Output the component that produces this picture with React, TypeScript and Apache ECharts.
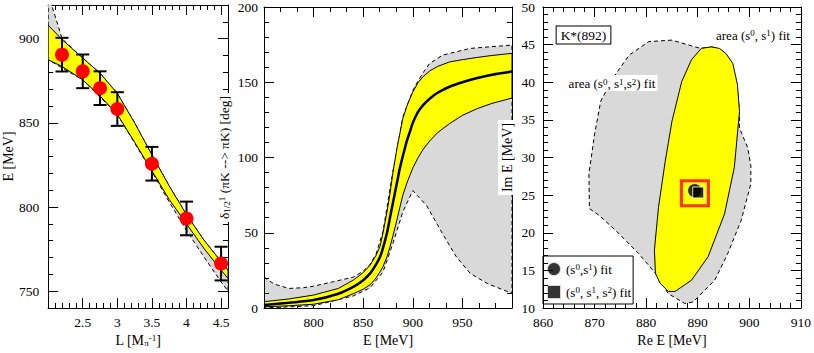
import { useEffect, useRef } from 'react';
import * as echarts from 'echarts';

const SERIF = 'Liberation Serif';

// ---------------- Panel 1: E vs L ----------------
const L_VALUES = [2.2, 2.5, 2.75, 3.0, 3.5, 4.0, 4.5];
const E_VALUES = [890.5, 880.6, 870.6, 858.2, 825.7, 793.2, 766.4];
const E_ERRORS = [10, 10, 10, 10, 10, 10, 10];

const L_BAND = [2.0, 2.2, 2.5, 2.75, 3.0, 3.25, 3.5, 3.75, 4.0, 4.25, 4.5, 4.6];
const E_BAND_UPPER = [908, 899.5, 888.5, 879.5, 867.5, 850, 831, 812.5, 795.5, 780.5, 767.5, 762.5];
const E_BAND_LOWER = [887.5, 883.5, 875.5, 866, 855, 838.5, 821.5, 804.5, 790, 775.5, 762.5, 757.5];

const L_GRAY_UPPER = [2.0, 2.05, 2.1, 2.15, 2.2, 2.5, 2.75, 3.0, 3.25, 3.5, 3.75, 4.0, 4.25, 4.5, 4.6];
const E_GRAY_UPPER = [935, 920, 913.5, 907, 900, 888.5, 879.5, 867.5, 850, 831, 812.5, 795.5, 780.5, 767.5, 762.5];
const L_GRAY_LOWER = [2.0, 2.5, 3.0, 3.5, 3.75, 4.0, 4.25, 4.5, 4.6];
const E_GRAY_LOWER = [887.5, 875.5, 855, 821, 803, 786, 770.5, 755.5, 750];

const P1_X_TICK_LABELS = [2.5, 3, 3.5, 4, 4.5];
const P1_Y_TICK_LABELS = [750, 800, 850, 900];

// ---------------- Panel 2: phase shift ----------------
const E_PHASE = [750, 775, 800, 825, 840, 850, 857, 863, 867, 870, 874, 877, 880, 884, 887, 890, 894, 897, 900, 905, 910, 917, 925, 937, 950, 965, 980, 1000];
const DELTA_UPPER = [4.2, 6, 8.6, 13, 18.5, 23.5, 28.5, 35, 41, 50, 64, 76, 90, 106, 116, 126, 134, 139, 143.5, 149.5, 153.5, 157.5, 160.5, 163.5, 165, 166.5, 167.8, 169.2];
const DELTA_CENTRAL = [2, 3.5, 5.3, 9.5, 14, 18.5, 23, 29, 34, 40, 50, 60, 70, 83, 93, 101, 111, 117, 123, 130, 134.5, 139, 143, 147, 150, 152.8, 155, 157.1];
const DELTA_LOWER = [0.8, 1.5, 2.5, 5.5, 9.5, 12.5, 15.5, 20, 24, 27.5, 34, 40.5, 48, 58.5, 67, 75, 83, 88, 93, 99.5, 105, 111, 116.5, 122.5, 128, 132.5, 136, 139.5];

const E_GRAY2_UPPER = [750, 760, 775, 790, 800, 820, 840, 850, 857, 863, 870, 880, 890, 900, 905, 910, 917, 930, 958, 1000];
const DELTA_GRAY_UPPER = [20.5, 16, 13, 13.5, 14.5, 17.5, 20.5, 24.5, 29, 36, 51, 91, 127, 144.5, 150.5, 156, 162.5, 168, 172.5, 174.7];
const E_GRAY2_LOWER = [750, 800, 840, 857, 870, 880, 890, 900, 914, 930, 944, 958, 975, 1000];
const DELTA_GRAY_LOWER = [0, 1.5, 8, 13.5, 24, 43, 64, 78, 68, 49.3, 33.9, 22.9, 16.3, 9.7];

const P2_X_TICK_LABELS = [800, 850, 900, 950];

// ---------------- Panel 3: pole position ----------------
const AREA012_RE = [885, 880.5, 876.7, 873.5, 871.2, 870, 868.9, 869, 870.9, 874.1, 878.6, 881.8, 884.3, 887.5, 889.1, 891.4, 893.3, 895.8, 898.4, 900.3, 900.3, 899.7, 898.1, 898.1, 897.5, 895.5, 893, 890.5];
const AREA012_IM = [45.6, 45.4, 43.6, 40.5, 37.5, 33.1, 27.8, 23.2, 22.3, 20.3, 17.2, 14.6, 11.9, 10.6, 10.8, 12.4, 13.7, 17.2, 21.6, 26.5, 28.9, 31.3, 33.9, 36.1, 40, 43.8, 44.7, 44.5];
const AREA01_RE = [892.6, 890.7, 888.8, 886.9, 885, 883.7, 882.4, 881.6, 881.8, 882.7, 884.3, 885.6, 888.8, 892, 895.2, 897.1, 898.1, 897.7, 896.8, 895.5, 894.2];
const AREA01_IM = [44.7, 44.5, 43.0, 40.1, 34.8, 29.5, 23.4, 17.7, 14.6, 13.3, 12.2, 12.2, 13.7, 16.8, 22.5, 28.7, 36.1, 39.7, 42.5, 43.8, 44.5];

const POLE_FIT01 = [889.4, 25.6];
const POLE_FIT012 = [890.1, 25.35];
const POLE_HIGHLIGHT = [889.45, 25.25];

const FIT01_NAME = '(s0,s1) fit';
const FIT012_NAME = '(s0, s1, s2) fit';

// ---------------- helpers ----------------
const TEXT = { color: '#000', fontFamily: SERIF, fontSize: 13.5 };
const RICH = {
  t: { fontFamily: SERIF, fontSize: 14, color: '#000' },
  sub: { fontFamily: SERIF, fontSize: 9, color: '#000', verticalAlign: 'bottom' },
  sup: { fontFamily: SERIF, fontSize: 9, color: '#000', verticalAlign: 'top' },
};
const RICH_SMALL = {
  t: { fontFamily: SERIF, fontSize: 13, color: '#000' },
  sup: { fontFamily: SERIF, fontSize: 9, color: '#000', verticalAlign: 'top' },
};

const near = (list: number[], v: number) => list.some((l) => Math.abs(l - v) < 1e-6);

function makeAxis(o: any) {
  const a: any = {
    type: 'value',
    gridIndex: o.grid,
    position: o.position,
    min: o.min,
    max: o.max,
    interval: o.interval,
    z: o.z ?? 0,
    axisLine: { show: o.line !== false, onZero: false, lineStyle: { color: '#000', width: 1 } },
    axisTick: { show: true, inside: true, length: o.tickLen, lineStyle: { color: '#000', width: 1 } },
    minorTick: { show: !!o.minor, splitNumber: o.minor || 5, length: 5, lineStyle: { color: '#000', width: 1 } },
    axisLabel: { show: !!o.formatter, formatter: o.formatter, margin: o.margin ?? 7, ...TEXT },
    splitLine: { show: false },
    minorSplitLine: { show: false },
  };
  if (o.customTicks) a.axisTick.customValues = o.customTicks;
  if (o.name) {
    a.name = o.name;
    a.nameLocation = 'middle';
    a.nameGap = o.nameGap;
    if (o.nameRotate != null) a.nameRotate = o.nameRotate;
    a.nameTextStyle = { ...TEXT, rich: o.rich ?? RICH, backgroundColor: o.nameBg, padding: o.namePad ?? 0 };
  }
  return a;
}

const zip = (xs: number[], ys: number[]) => xs.map((x, i) => [x, ys[i]]);

function polygonSeries(name: string, axisIdx: number, pts: number[][], style: any, z: number) {
  return {
    type: 'custom',
    name,
    xAxisIndex: axisIdx,
    yAxisIndex: axisIdx,
    z,
    clip: true,
    silent: true,
    data: pts,
    encode: { x: 0, y: 1 },
    renderItem: (params: any, api: any) =>
      params.dataIndex === 0
        ? { type: 'polygon', shape: { points: pts.map((p) => api.coord(p)) }, style }
        : null,
  };
}

const YELLOW = { fill: '#ffff00', stroke: '#000', lineWidth: 1 };
const GRAY = { fill: '#d9d9d9', stroke: '#000', lineWidth: 1, lineDash: [4, 3] };

function buildOption() {
  const band1 = [...zip(L_BAND, E_BAND_UPPER), ...zip(L_BAND, E_BAND_LOWER).reverse()];
  const gray1 = [...zip(L_GRAY_UPPER, E_GRAY_UPPER), ...zip(L_GRAY_LOWER, E_GRAY_LOWER).reverse()];
  const band2 = [...zip(E_PHASE, DELTA_UPPER), ...zip(E_PHASE, DELTA_LOWER).reverse()];
  const gray2 = [...zip(E_GRAY2_UPPER, DELTA_GRAY_UPPER), ...zip(E_GRAY2_LOWER, DELTA_GRAY_LOWER).reverse()];
  const area012 = zip(AREA012_RE, AREA012_IM);
  const area01 = zip(AREA01_RE, AREA01_IM);

  const p1x = (v: number) => (near(P1_X_TICK_LABELS, v) ? String(v) : '');
  const p1y = (v: number) => (near(P1_Y_TICK_LABELS, v) ? String(Math.round(v)) : '');
  const p2x = (v: number) => (near(P2_X_TICK_LABELS, v) ? String(v) : '');
  const plain = (v: number) => String(v);

  const deltaRich = {
    t: { fontFamily: SERIF, fontSize: 13.5, color: '#000' },
    sub: RICH.sub,
    sup: RICH.sup,
  };

  const xAxis = [
    makeAxis({ grid: 0, position: 'bottom', min: 2, max: 4.6, interval: 0.5, tickLen: 10, formatter: p1x,
      name: '{t|L [M}{sub|π}{sup|-1}{t|]}', nameGap: 13 }),
    makeAxis({ grid: 0, position: 'bottom', min: 2, max: 4.6, interval: 0.1, tickLen: 5, line: false }),
    makeAxis({ grid: 0, position: 'top', min: 2, max: 4.6, interval: 0.5, tickLen: 10 }),
    makeAxis({ grid: 0, position: 'top', min: 2, max: 4.6, interval: 0.1, tickLen: 5, line: false }),
    makeAxis({ grid: 1, position: 'bottom', min: 750, max: 1000, interval: 50, tickLen: 10, minor: 3, formatter: p2x,
      name: '{t|E [MeV]}', nameGap: 14 }),
    makeAxis({ grid: 1, position: 'top', min: 750, max: 1000, interval: 50, tickLen: 10, minor: 3 }),
    makeAxis({ grid: 2, position: 'bottom', min: 860, max: 910, interval: 10, tickLen: 10, minor: 5, formatter: plain,
      name: '{t|Re E [MeV]}', nameGap: 14 }),
    makeAxis({ grid: 2, position: 'top', min: 860, max: 910, interval: 10, tickLen: 10, minor: 5 }),
  ];

  const yAxis = [
    makeAxis({ grid: 0, position: 'left', min: 740, max: 920, interval: 10, tickLen: 5, formatter: p1y, margin: 9,
      name: '{t|E [MeV]}', nameGap: 31, nameRotate: 90 }),
    makeAxis({ grid: 0, position: 'left', min: 740, max: 920, interval: 10, tickLen: 10, line: false, customTicks: P1_Y_TICK_LABELS }),
    makeAxis({ grid: 0, position: 'right', min: 740, max: 920, interval: 10, tickLen: 5 }),
    makeAxis({ grid: 0, position: 'right', min: 740, max: 920, interval: 10, tickLen: 10, line: false, customTicks: P1_Y_TICK_LABELS }),
    makeAxis({ grid: 1, position: 'left', min: 0, max: 200, interval: 50, tickLen: 10, minor: 5, formatter: plain, margin: 6,
      name: '{t|δ}{sub|1/2}{sup|1}{t| (πK --> πK) [deg]}', rich: deltaRich, nameGap: 31, nameRotate: 90,
      nameBg: '#fff', namePad: [2, 3, 2, 3], z: 10 }),
    makeAxis({ grid: 1, position: 'right', min: 0, max: 200, interval: 50, tickLen: 10, minor: 5 }),
    makeAxis({ grid: 2, position: 'left', min: 10, max: 50, interval: 5, tickLen: 10, minor: 5, formatter: plain, margin: 8,
      name: '{t|Im E [MeV]}', nameGap: 27, nameRotate: 90, nameBg: '#fff', namePad: [2, 3, 2, 3], z: 10 }),
    makeAxis({ grid: 2, position: 'right', min: 10, max: 50, interval: 5, tickLen: 10, minor: 5 }),
  ];

  const errorBars = {
    type: 'custom',
    name: 'errors',
    xAxisIndex: 0,
    yAxisIndex: 0,
    z: 3,
    clip: true,
    silent: true,
    data: L_VALUES.map((l, i) => [l, E_VALUES[i] - E_ERRORS[i], E_VALUES[i] + E_ERRORS[i]]),
    encode: { x: 0, y: [1, 2] },
    renderItem: (_p: any, api: any) => {
      const lo = api.coord([api.value(0), api.value(1)]);
      const hi = api.coord([api.value(0), api.value(2)]);
      const w = 6.5;
      const st = { stroke: '#000', lineWidth: 2 };
      return {
        type: 'group',
        children: [
          { type: 'line', shape: { x1: lo[0], y1: lo[1], x2: hi[0], y2: hi[1] }, style: st },
          { type: 'line', shape: { x1: lo[0] - w, y1: lo[1], x2: lo[0] + w, y2: lo[1] }, style: st },
          { type: 'line', shape: { x1: hi[0] - w, y1: hi[1], x2: hi[0] + w, y2: hi[1] }, style: st },
        ],
      };
    },
  };

  const series: any[] = [
    polygonSeries('gray band L', 0, gray1, GRAY, 1),
    polygonSeries('yellow band L', 0, band1, YELLOW, 2),
    errorBars,
    {
      type: 'scatter', name: 'lattice', xAxisIndex: 0, yAxisIndex: 0, z: 4, silent: true,
      data: zip(L_VALUES, E_VALUES), symbol: 'circle', symbolSize: 14,
      itemStyle: { color: '#ff0000', opacity: 1 },
    },
    polygonSeries('gray band phase', 4, gray2, GRAY, 1),
    polygonSeries('yellow band phase', 4, band2, YELLOW, 2),
    {
      type: 'line', name: 'phase central', xAxisIndex: 4, yAxisIndex: 4, z: 3, silent: true,
      data: zip(E_PHASE, DELTA_CENTRAL), symbol: 'none', smooth: 0.3,
      lineStyle: { color: '#000', width: 2.5 },
    },
    polygonSeries('area s0 s1 s2', 6, area012, GRAY, 1),
    polygonSeries('area s0 s1', 6, area01, YELLOW, 2),
    {
      type: 'scatter', name: 'highlight', xAxisIndex: 6, yAxisIndex: 6, z: 4, silent: true,
      data: [POLE_HIGHLIGHT], symbol: 'rect', symbolSize: [27, 25],
      itemStyle: { color: 'rgba(0,0,0,0)', borderColor: '#ff0000', borderWidth: 3 },
    },
    {
      type: 'scatter', name: FIT01_NAME, xAxisIndex: 6, yAxisIndex: 6, z: 5, silent: true,
      data: [POLE_FIT01], symbol: 'circle', symbolSize: 14,
      itemStyle: { color: '#000', borderColor: '#fff', borderWidth: 1 },
    },
    {
      type: 'scatter', name: FIT012_NAME, xAxisIndex: 6, yAxisIndex: 6, z: 6, silent: true,
      data: [POLE_FIT012], symbol: 'rect', symbolSize: 11,
      itemStyle: { color: '#000', borderColor: '#fff', borderWidth: 1 },
    },
  ];

  return {
    animation: false,
    backgroundColor: '#fff',
    grid: [
      { left: 45, top: 5, width: 183, height: 303 },
      { left: 264, top: 5, width: 248, height: 303 },
      { left: 543, top: 5, width: 261, height: 303 },
    ],
    xAxis,
    yAxis,
    series,
    legend: {
      data: [
        { name: FIT01_NAME, icon: 'circle' },
        { name: FIT012_NAME, icon: 'rect' },
      ],
      orient: 'vertical',
      left: 543,
      top: 256,
      itemWidth: 14,
      itemHeight: 14,
      itemGap: 7,
      padding: [5, 2, 4, 3],
      borderColor: '#000',
      borderWidth: 1,
      backgroundColor: '#fff',
      selectedMode: false,
      z: 10,
      formatter: (name: string) =>
        name === FIT01_NAME
          ? '{t|(s}{sup|0}{t|,s}{sup|1}{t|) fit}'
          : '{t|(s}{sup|0}{t|, s}{sup|1}{t|, s}{sup|2}{t|) fit}',
      textStyle: { ...TEXT, rich: RICH_SMALL },
    },
    graphic: [
      {
        type: 'text', x: 583.5, y: 35, z: 100,
        style: {
          text: 'K*(892)', align: 'center', verticalAlign: 'middle', fill: '#000',
          font: `13.5px ${SERIF}`, backgroundColor: '#fff', borderColor: '#000', borderWidth: 1, padding: [2, 4, 1, 4],
        },
      },
      {
        type: 'text', x: 753, y: 35, z: 100,
        style: {
          text: '{t|area (s}{sup|0}{t|, s}{sup|1}{t|) fit}', rich: RICH_SMALL, align: 'center', verticalAlign: 'middle',
        },
      },
      {
        type: 'text', x: 612, y: 83, z: 100,
        style: {
          text: '{t|area (s}{sup|0}{t|, s}{sup|1}{t|,s}{sup|2}{t|) fit}', rich: RICH_SMALL, align: 'center', verticalAlign: 'middle',
          backgroundColor: '#fff', padding: [2, 2, 1, 2],
        },
      },
    ],
  };
}

export default function App() {
  const ref = useRef<HTMLDivElement>(null);
  useEffect(() => {
    if (!ref.current) return;
    const chart = echarts.init(ref.current, null, { renderer: 'svg' });
    chart.setOption(buildOption());
    return () => chart.dispose();
  }, []);
  return <div ref={ref} style={{ position: 'fixed', left: 0, top: 0, width: 814, height: 353, background: '#fff' }} />;
}
